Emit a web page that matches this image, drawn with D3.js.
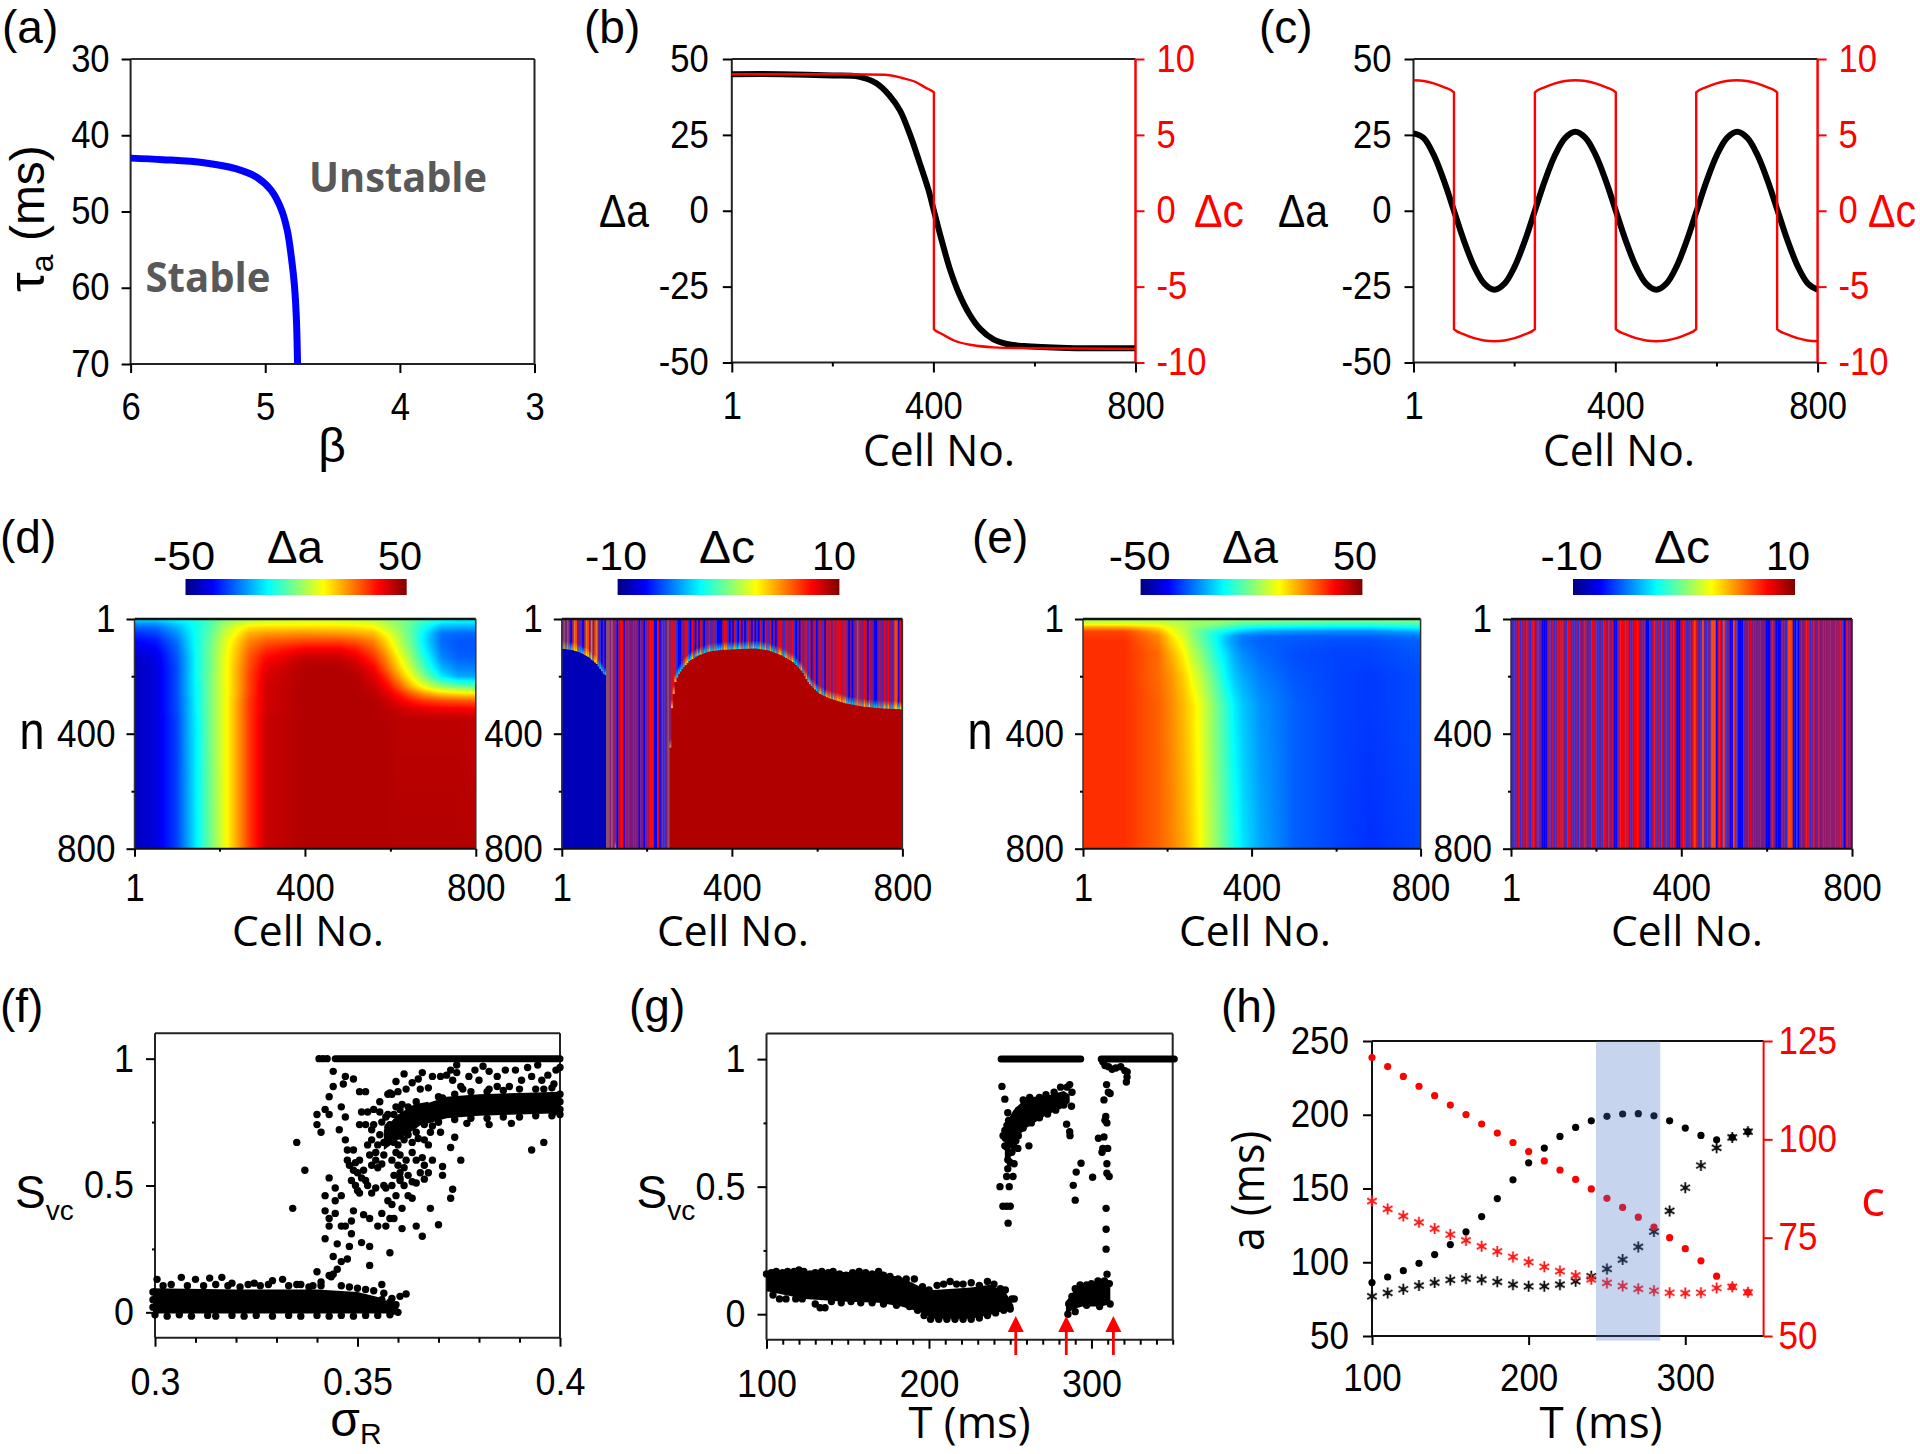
<!DOCTYPE html>
<html><head><meta charset="utf-8">
<script src="https://cdn.jsdelivr.net/npm/d3@7"></script>
<style>html,body{margin:0;padding:0;background:#fff}svg{display:block}</style>
</head><body><svg id="c" width="1920" height="1454" viewBox="0 0 1920 1454"></svg>
<script>
// ---------- DATA ----------
const aBeta=[6,5.758,5.456,5.214,5.063,4.957,4.881,4.836,4.806,4.784,4.769,4.76];
const aTau=[43,43.2,43.6,44.4,45.5,47.2,49.7,52.5,56,59.5,63.9,70];
const bCellA=[1,100,200,252,287,313,334,355,373,390,401,416,433,450,471,493,519,545,579,665,800];
const bDa=[45,45,44.6,44.2,42,38,33,24.5,15.7,7,0,-9.5,-19.4,-27,-34,-39,-42.4,-43.9,-44.6,-45.2,-45.3];
const bCellC=[1,235,304,338,364,385,401,401,416,441,476,519,579,800];
const bDc=[9,9,8.96,8.75,8.5,8.1,7.8,-7.8,-8.1,-8.55,-8.85,-9,-9.05,-9.1];
const cCellA=[1,21,41,61,81,101,121,141,161,181,201,221,241,261,281,301,321,341,361,381,401,421,441,461,481,501,521,541,561,581,601,621,641,661,681,701,721,741,761,781,800];
const cDa=[25.5,24,18.4,10,0,-10,-18.4,-24,-26,-24,-18.4,-10,0,10,18.4,24,26,24,18.4,10,0,-10,-18.4,-24,-26,-24,-18.4,-10,0,10,18.4,24,26,24,18.4,10,0,-10,-18.4,-24,-26];
const cCellC=[1,21,41,61,81,81,101,121,141,161,181,201,221,241,241,261,281,301,321,341,361,381,401,401,421,441,461,481,501,521,541,560,560,580,600,620,640,660,680,700,720,720,740,760,780,800];
const cDc=[8.6,8.55,8.4,8.15,7.8,-7.8,-8.15,-8.4,-8.55,-8.6,-8.55,-8.4,-8.15,-7.8,7.8,8.15,8.4,8.55,8.6,8.55,8.4,8.15,7.8,-7.8,-8.15,-8.4,-8.55,-8.6,-8.55,-8.4,-8.15,-7.8,7.8,8.15,8.4,8.55,8.6,8.55,8.4,8.15,7.8,-7.8,-8.15,-8.4,-8.55,-8.6];

const d1Cols=[1,50,100,130,150,180,210,240,270,310,400,480,520,560,590,620,650,680,720,760,800];
const d1Rows=[1,15,30,50,75,105,135,170,200,235,260,285,315,350,800];
const d1Grid=[
[-14,-14,-12,-10,-8,-4,0,2,4,6,7,6,6,5,3,0,-3,-6,-10,-12,-13],
[-22,-22,-16,-13,-10,-5,2,6,9,10,11,11,10,9,5,1,-3,-8,-14,-15,-15],
[-28,-27,-20,-14,-10,-4,4,10,15,16,16,16,15,13,7,2,-4,-11,-20,-21,-21],
[-33,-31,-23,-15,-10,-3,6,13,20,22,23,22,21,19,12,4,-4,-14,-26,-27,-27],
[-37,-35,-26,-16,-10,-2,8,16,24,28,30,30,28,24,16,6,-3,-15,-27,-29,-29],
[-40,-38,-28,-17,-10,-1,9,18,27,33,38,38,35,29,20,9,-1,-13,-26,-29,-29],
[-43,-40,-29,-18,-10,-1,10,19,29,37,43,43,40,33,24,13,2,-10,-24,-28,-28],
[-44,-41,-30,-18,-10,-1,10,20,30,40,45,45,43,38,28,17,6,-6,-20,-25,-25],
[-44,-41,-30,-18,-10,0,10,20,31,41,45,45,45,41,33,22,11,0,-14,-21,-21],
[-44,-41,-30,-18,-11,0,10,20,31,42,45,45,45,43,38,29,19,10,2,-2,-4],
[-44,-41,-30,-18,-11,0,10,20,31,42,45,45,45,44,41,35,28,22,17,15,14],
[-44,-41,-30,-19,-11,0,10,21,32,42,45,45,45,45,43,39,35,32,30,29,28],
[-44,-41,-30,-19,-11,0,10,21,32,42,45,45,45,45,44,43,41,40,39,39,38],
[-44,-41,-31,-19,-12,0,10,21,32,43,45,45,45,45,45,44,44,44,44,44,43],
[-44,-41,-31,-20,-12,-1,10,21,32,43,45,45,45,45,45,45,45,45,45,45,45]];

const e1Cols=[1,100,180,210,240,260,280,300,320,340,360,380,420,500,600,680,800];
const e1Rows=[1,10,20,30,45,60,80,120,200,300,800];
const e1Grid=[
[5,5,5,4,4,3,3,3,2,2,2,1,1,0,0,0,0],
[6,6,6,5,4,3,3,2,2,1,0,-1,-1,-2,-3,-3,-2],
[12,12,10,7,5,3,2,1,0,-2,-3,-5,-6,-7,-8,-8,-6],
[22,21,15,10,6,2,0,-2,-4,-6,-9,-11,-13,-14,-15,-15,-12],
[31,31,21,12,6,1,-3,-7,-10,-13,-16,-19,-21,-23,-24,-24,-20],
[32,32,24,15,8,2,-3,-8,-13,-18,-22,-25,-27,-28,-28,-28,-26],
[33,33,25,17,10,3,-2,-7,-13,-19,-23,-26,-28,-29,-30,-30,-28],
[33,33,27,20,13,6,1,-5,-11,-16,-21,-24,-27,-30,-31,-31,-29],
[33,33,27,23,17,11,6,0,-6,-13,-18,-21,-25,-29,-31,-32,-30],
[33,33,28,24,19,15,10,4,-2,-8,-14,-18,-23,-28,-31,-32,-30],
[33,33,28,25,21,17,12,6,1,-5,-10,-15,-21,-28,-31,-33,-31]];

// stripes: one letter per 4 cells
const d2Stripes="PGPGPBMYOP"+"PbBMYOPYPO"+"YPbBPBGGMG"+"MMBPRRBrPP"+"PPPMPBPPBP"+"MRRRBBRBbP"+"bPGMrrrbBB"+"PPrRbBRPBr"+"BrPBPbrbPM"+"bBBBPRrbBP"+"BrbBrBMBbr"+"PBrBbBrbBr"+"PbrBPBPrRP"+"brMMMRbBPB"+"rPMrbrBPrB"+"PrbMBrMrPr"+"MrrRMrrbBP"+"BPMGMMPRMB"+"RPPBBPMPbR"+"PRPPbOOBRB";
const e2Stripes="bPbPRbPrPR"+"PbrRbRbPBB"+"BPrbrbPrrr"+"rPbRRbPbMb"+"MPMrPPbRRM"+"bbPbRRbrPr"+"BBbrRRrrRP"+"bPRRRPPPPB"+"BbPRRbrbRb"+"MPbrMRPBBP"+"RrbPbPrOrP"+"bbOPbPbOOO"+"BrRbOrbPBB"+"OrbBBBPPPP"+"RPPPPPPPPB"+"BBMrPBBBPP"+"PbOOOBBbBP"+"PPrRrbPrPb"+"RPMMMMMMMM"+"MMrRbBrPrB";
const d2BoundCell=[1,24.5,44,64,83,101,105,106,251,255.5,259,266,273.5,283,298.6,318,345.5,377,416,455,486.5,518,545,565,580.5,604,627.5,666.5,706,745,800];
const d2BoundN=[104,108,117,133,157,195,195,800,800,404,311,224,195,175,148,129,114,108,105.5,103,110,128,152,183,224,259,276,294,305,311,315];

const fTop=[[.3405,1],[.3415,1],[.3425,1]];
const fTopLine=[.3445,.4];
const fBandX=[.2995,.32,.34,.35,.355,.358,.3605];
const fBandHi=[.095,.09,.09,.08,.06,.04,.01];
const fBandLo=[-.005,-.005,-.005,-.005,-.005,-.005,0];
const fMainX=[.3665,.372,.38,.39,.4];
const fMainHi=[.82,.85,.86,.865,.87];
const fMainLo=[.74,.765,.775,.78,.785];
const fBlobX=[.3565,.36,.364,.3675];
const fBlobHi=[.72,.78,.82,.83];
const fBlobLo=[.64,.68,.72,.76];
const fEdge=[[.3065,.138],[.31,.13],[.3135,.135],[.3165,.138],[.319,.115],[.3245,.115],[.329,.125],[.3315,.13],[.336,.11],[.339,.105],[.3435,.14],[.3005,.13],[.356,.11],[.3605,.063],[.362,.072],[.36,0],[.359,.005],[.302,.105],[.304,.11],[.308,.105],[.312,.105],[.315,.11],[.318,.105],[.321,.1],[.323,.11],[.326,.105],[.328,.11],[.333,.105],[.335,.11],[.338,.1],[.341,.105],[.346,.105],[.348,.1],[.35,.095],[.352,.09],[.354,.085],[.3,-.01],[.303,-.015],[.306,-.01],[.309,-.015],[.313,-.012],[.315,-.015],[.319,-.012],[.322,-.015],[.325,-.012],[.329,-.015],[.333,-.012],[.336,-.015],[.34,-.012],[.343,-.015],[.346,-.012],[.349,-.015],[.352,-.012],[.355,-.012],[.358,-.01],[.2995,.05],[.2995,.02],[.2995,.08],[.356,.05],[.358,.04],[.3575,.02],[.3595,.03],[.3565,.075],[.3585,.055],[.359,.015],[.37,.85],[.374,.86],[.378,.87],[.382,.87],[.386,.875],[.39,.88],[.394,.88],[.398,.885],[.37,.75],[.374,.76],[.378,.765],[.382,.765],[.386,.77],[.39,.77],[.394,.775],[.398,.775],[.4,.83],[.4,.80],[.4,.86]];
const fSparse=[[.334,.41],[.335,.67],[.337,.56],[.34,.78],[.34,.74],[.341,.71],[.34,.16],[.342,.8],[.343,.85],[.343,.78],[.344,.89],[.344,.95],[.347,.93],[.3465,.9],[.349,.92],[.346,.81],[.347,.77],[.3455,.72],[.347,.68],[.3475,.64],[.349,.64],[.343,.53],[.3445,.49],[.342,.46],[.3445,.44],[.346,.46],[.342,.4],[.3445,.39],[.343,.37],[.343,.34],[.346,.34],[.347,.34],[.3485,.31],[.3485,.36],[.349,.4],[.3515,.385],[.353,.37],[.342,.29],[.345,.27],[.348,.26],[.351,.275],[.353,.26],[.344,.22],[.346,.2],[.3475,.21],[.353,.185],[.345,.17],[.343,.145],[.344,.15],[.341,.12],[.358,.235],[.355,.34],[.357,.34],[.356,.39],[.358,.37],[.359,.37],[.361,.41],[.361,.33],[.3645,.34],[.37,.345],[.366,.3],[.368,.41],[.373,.45],[.3735,.485],[.3755,.6],[.371,.575],[.371,.54],[.373,.65],[.374,.69],[.3705,.71],[.368,.71],[.393,.64],[.396,.67],
[.3495,.59],[.35,.55],[.3505,.6],[.3495,.5],[.35,.48],[.351,.53],[.3515,.56],[.352,.52],[.3505,.47],[.3525,.5],[.3475,.6],[.348,.58],[.349,.56],[.3485,.52],[.3535,.58],[.3545,.6],[.353,.62],[.3525,.66],[.3535,.68],[.3545,.63],[.355,.57],[.356,.585],[.3565,.62],[.355,.66],[.3555,.7],[.3565,.67],[.354,.74],[.3535,.72],[.352,.74],[.3505,.74],[.351,.79],[.3525,.79],[.354,.8],[.3555,.79],[.356,.75],[.3575,.73],[.357,.77],[.358,.7],[.359,.67],[.3595,.63],[.3585,.6],[.36,.58],[.3605,.55],[.3615,.57],[.3625,.54],[.362,.6],[.3605,.62],[.3635,.63],[.3645,.6],[.366,.61],[.3665,.58],[.3685,.6],[.3675,.55],[.3655,.55],[.3635,.515],[.3645,.51],[.3665,.525],[.3615,.5],[.3605,.52],[.359,.54],[.3585,.5],[.357,.49],[.3565,.5],[.3545,.49],[.3535,.47],[.3595,.46],[.3625,.46],[.3635,.45],[.3575,.44],[.3585,.425],[.3605,.53],
[.3575,.78],[.358,.74],[.359,.78],[.3595,.75],[.3605,.8],[.361,.76],[.361,.71],[.3625,.74],[.3635,.77],[.3645,.8],[.3655,.76],[.3665,.74],[.3615,.68],[.3625,.7],[.3635,.67],[.3645,.71],[.365,.685],[.3665,.68],[.3675,.66],[.36,.66],[.3595,.7],[.3605,.695],[.3595,.81],[.361,.82],[.3625,.81],[.3645,.83],[.366,.81],[.3675,.8],[.3505,.87],[.352,.87],[.3555,.83],[.3575,.86],[.3585,.86],
[.3595,.91],[.3615,.94],[.358,.865],[.36,.87],[.362,.88],[.3635,.905],[.365,.92],[.366,.945],[.3685,.93],[.3655,.88],[.3675,.885],[.3705,.93],[.372,.935],[.373,.955],[.3745,.975],[.3735,.915],[.376,.88],[.371,.845],[.379,.955],[.381,.97],[.3825,.95],[.3845,.93],[.3865,.955],[.389,.955],[.392,.965],[.3945,.975],[.397,.935],[.399,.955],[.4,.965],[.3845,.89],[.3875,.89],[.3825,.88],[.3905,.915],[.393,.93],[.3955,.915],[.3985,.9],[.38,.915],[.3775,.93],[.3745,.945],[.3755,.89],[.396,.88],[.377,.745],[.3825,.74],[.388,.745],[.3685,.735],[.37,.75],[.3985,.79],[.4,.78]];

const gTopA=[244.4,293.4], gTopB=[306,351];
const gBandX=[100,123.7,146.5,169,183,194,203,226,237.6,246.7,252];
const gBandHi=[.165,.17,.165,.16,.145,.11,.095,.105,.115,.09,.035];
const gBandLo=[.09,.06,.05,.045,.03,.01,-.018,-.018,-.003,.014,.02];
const gBlob2X=[284.3,289,294.5,306,311.6];
const gBlob2Hi=[.05,.09,.115,.125,.13];
const gBlob2Lo=[.0,.02,.03,.03,.04];
const gBlob3X=[246.7,252,260,272,283,286.6];
const gBlob3Hi=[.74,.80,.85,.855,.875,.86];
const gBlob3Lo=[.6,.68,.73,.78,.81,.83];
const gEdge=[[100,.158],[103,.163],[106,.168],[110,.163],[113,.168],[117,.168],[120,.173],[123,.168],[127,.158],[130,.163],[134,.168],[138,.163],[141,.168],[145,.158],[149,.153],[153,.163],[157,.168],[161,.163],[165,.158],[169,.168],[172,.153],[176,.148],[181,.138],[186,.138],[191,.138],[196,.108],[200,.095],[205,.113],[209,.118],[213,.128],[217,.118],[221,.118],[226,.123],[231,.113],[236,.128],[240,.118],[244,.1],[247,.095],[251,.06],[252.5,.06],
[104,.075],[108,.06],[112,.06],[118,.06],[122,.06],[130,.04],[133,.025],[136,.025],[140,.05],[146,.045],[152,.05],[158,.045],[165,.045],[172,.04],[180,.035],[188,.03],[193,.015],[197,-.005],[201,-.02],[206,-.02],[211,-.02],[216,-.02],[221,-.02],[226,-.02],[231,-.015],[236,-.005],[241,.005],[246,.015],[250,.02],
[285.5,0],[286,.04],[288,.07],[290,.10],[293,.115],[297,.115],[300,.12],[304,.13],[308,.13],[311,.12],[311.5,.04],[305,.03],[297,.035],[290,.01],
[255,.8],[258,.84],[262,.85],[268,.85],[272,.86],[277,.87],[281,.89],[285,.89],[288,.87],[250,.74],[254,.72],[258,.73],[263,.75],[268,.77],[273,.785],[278,.8],[283,.82]];
const gSparse=[[244.9,.893],[246.7,.843],[243.7,.5],[249.4,.5],[245.5,.423],[247.8,.423],[250,.423],[248.7,.357],[247.8,.54],[251.7,.54],[248.5,.57],[246.7,.72],[245.6,.7],[247.8,.655],[250,.665],[246.7,.66],[249,.63],[251,.635],[248.5,.605],[252.4,.59],[250,.595],[254.7,.65],[253.5,.68],[249,.76],[251,.74],[248.5,.79],[252,.66],[255,.7],[247,.69],[250,.7],[248,.74],[261.5,.66],[284.7,.745],[286.6,.715],[286.8,.7],[286.6,.9],[287.7,.815],[288.8,.505],[290,.447],[290.6,.557],[293.6,.592],[300.7,.537],[309.3,.9],[310.4,.87],[307.7,.84],[311.5,.865],[308.8,.775],[308.3,.76],[309.5,.75],[304.3,.69],[307.7,.695],[307,.65],[310,.65],[306.5,.635],[309.5,.59],[309.5,.553],[310.9,.54],[309,.415],[309,.333],[309,.255],[309.6,.157],
[307,.99],[308.3,.975],[310.5,.97],[312.7,.96],[315,.965],[321.5,.91],[320.5,.955],[321.9,.93],[318,.97],[322,.95]];
const gArrows=[253.4,284.5,313.5];

const hT=[100,110,120,130,140,150,160,170,180,190,200,210,220,230,240,250,260,270,280,290,300,310,320,330,340];
const hADots=[86.2,90,94.3,99.3,105.2,112,120.6,131,143.2,155.9,167.4,177.4,185.3,191.4,195.9,198.9,200.5,200.7,199.3,195.9,191,186,183,184.6,188.5];
const hAStars=[76.9,79.2,81.7,84.2,86.2,88,88.9,88.2,86.7,84.8,83.7,83.7,84.8,87.1,90.5,95.5,101.8,110.4,120.8,134.8,150.5,165.6,177.6,184.6,188.5];
const hCDots=[120.8,118.5,116,113.5,111.1,108.7,106.3,103.9,101.6,99.2,96.9,94.5,92.2,89.8,87.4,85,82.7,80.2,77.7,75,72.2,69.1,65.2,62.5,61.1];
const hCStars=[84.3,82.3,80.5,78.9,77.3,75.8,74.3,72.8,71.5,70.1,68.8,67.6,66.5,65.4,64.4,63.5,62.7,62,61.5,61,60.9,61,62.2,62.5,61.1];
const hBand=[243,284];

const cellTicksMajor=[1,400,800], cellTicksMinor=[200,600];
const jetStops=[-1,-.75,-.25,.25,.75,1];
const jetColors=["#00007f","#0000ff","#00ffff","#ffff00","#ff0000","#7f0000"];
const stripeColor={B:"#0000ff",b:"#2a30e0",P:"#7a1a80",M:"#931a6c",R:"#ff0000",r:"#d40f2a",O:"#ff4000",G:"#8a5072",Y:"#e07a20"};
const tipColor={B:"#00e8e8",b:"#10d0e0",P:"#40a0b0",M:"#d09040",R:"#ffe000",r:"#f0c820",O:"#ffe000",G:"#d0a040",Y:"#ffd000"};

// ---------- DRAW ----------
const svg=d3.select("#c");
const serif='"Liberation Sans",Arial,sans-serif', label='"Open Sans",sans-serif';
const jet=d3.scaleLinear().domain(jetStops).range(jetColors).clamp(true);

function txt(x,y,s,o={}){
  const t=svg.append("text").attr("x",x).attr("y",y).text(s)
    .attr("font-family",o.font||serif).attr("font-size",o.size||38)
    .attr("fill",o.fill||"#000").attr("text-anchor",o.anchor||"middle")
    .attr("font-weight",o.weight||"normal");
  if(o.w) t.attr("textLength",o.w).attr("lengthAdjust","spacingAndGlyphs");
  if(o.rot!=null) t.attr("transform",`rotate(${o.rot},${x},${y})`);
  return t;
}
function subTxt(x,y,main,sub,o={}){
  const t=txt(x,y,main,Object.assign({anchor:"start"},o));
  t.append("tspan").attr("dy",o.subDy||12).attr("font-size",o.subSize||30).text(sub);
  return t;
}
function axis(kind,scale,at,majors,minors,o={}){
  const col=o.color||"#000", gen={left:d3.axisLeft,right:d3.axisRight,bottom:d3.axisBottom}[kind];
  const mk=(vals,size,labels)=>{
    const g=svg.append("g").attr("transform",kind==="bottom"?`translate(0,${at})`:`translate(${at},0)`)
      .call(gen(scale).tickValues(vals).tickSize(size).tickSizeOuter(0).tickPadding(o.pad==null?12:o.pad).tickFormat(labels?(o.fmt||(d=>String(d))):""));
    g.select(".domain").remove();
    g.selectAll("line").attr("stroke",col).attr("stroke-width",o.tw||2);
    g.selectAll("text").attr("fill",col).attr("font-family",serif).attr("font-size",o.size||38);
    if(labels) g.selectAll("text").each(function(){
      const len=this.getComputedTextLength();
      d3.select(this).attr("textLength",len*(o.ratio||.91)).attr("lengthAdjust","spacingAndGlyphs");
    });
    return g;
  };
  if(minors&&minors.length) mk(minors,o.minLen||4,false);
  mk(majors,o.len||9,true);
}
function frame(x0,x1,y0,y1,o={}){
  const L=(a,b,c,d,col,w)=>svg.append("line").attr("x1",a).attr("y1",b).attr("x2",c).attr("y2",d).attr("stroke",col).attr("stroke-width",w);
  L(x0,y0,x1,y0,o.top||"#222",o.topW||2);
  L(x0,y1,x1,y1,"#222",o.botW||2);
  L(x0,y0,x0,y1,"#222",2);
  L(x1,y0,x1,y1,o.right||"#222",2);
}
function heat(cols,rows,grid,x,y){
  const [x0,x1]=x.range(),[y0,y1]=y.range();
  const w=Math.round(x1-x0),h=Math.round(y1-y0);
  const cv=document.createElement("canvas");cv.width=w;cv.height=h;
  const ctx=cv.getContext("2d"),img=ctx.createImageData(w,h);
  const ci=d3.scaleLinear().domain(cols).range(d3.range(cols.length)).clamp(true);
  const ri=d3.scaleLinear().domain(rows).range(d3.range(rows.length)).clamp(true);
  for(let j=0;j<h;j++){
    const rf=ri(y.invert(y0+j+.5)),r0=Math.min(Math.floor(rf),rows.length-2),rt=rf-r0;
    for(let i=0;i<w;i++){
      const cf=ci(x.invert(x0+i+.5)),c0=Math.min(Math.floor(cf),cols.length-2),ct=cf-c0;
      const v=(grid[r0][c0]*(1-ct)+grid[r0][c0+1]*ct)*(1-rt)+(grid[r0+1][c0]*(1-ct)+grid[r0+1][c0+1]*ct)*rt;
      const col=d3.rgb(jet(v/50)),p=(j*w+i)*4;
      img.data[p]=col.r;img.data[p+1]=col.g;img.data[p+2]=col.b;img.data[p+3]=255;
    }
  }
  ctx.putImageData(img,0,0);
  svg.append("image").attr("x",x0).attr("y",y0).attr("width",w).attr("height",h).attr("href",cv.toDataURL());
}
const defs=svg.append("defs");
defs.append("linearGradient").attr("id","jet").selectAll("stop").data(jetStops).join("stop")
  .attr("offset",d=>(d+1)/2).attr("stop-color",d=>jet(d));
Object.keys(stripeColor).forEach(k=>{
  const g=defs.append("linearGradient").attr("id","tip"+k).attr("x1",0).attr("y1",0).attr("x2",0).attr("y2",1);
  g.append("stop").attr("offset",0).attr("stop-color",stripeColor[k]);
  g.append("stop").attr("offset",1).attr("stop-color",tipColor[k]);
});
function colorbar(x0,x1,lo,hi,sym,cxLo,cxHi,cxSym){
  svg.append("rect").attr("x",x0).attr("y",579).attr("width",x1-x0).attr("height",16).attr("fill","url(#jet)");
  txt(cxLo,570,lo,{size:41,w:62});
  txt(cxHi,570,hi,{size:41,w:44});
  txt(cxSym,563,sym,{size:46,w:56});
}
function dots(g,pts,x,y,r,fill){
  g.selectAll(null).data(pts).join("circle").attr("cx",d=>x(d[0])).attr("cy",d=>y(d[1])).attr("r",r).attr("fill",fill);
}
const panelTag=(x,y,s)=>txt(x,y,s,{anchor:"start",size:46});

// (a)
{
  const x=d3.scaleLinear().domain([6,3]).range([130.6,534.5]),y=d3.scaleLinear().domain([30,70]).range([59,364]);
  frame(130.6,534.5,59,364,{top:"#333"});
  axis("left",y,130.6,[30,40,50,60,70],[],{pad:12,len:9});
  axis("bottom",x,364,[6,5,4,3],[],{pad:20,len:9});
  svg.append("path").attr("d",d3.line().x(d=>x(d[0])).y(d=>y(d[1])).curve(d3.curveCatmullRom)(d3.zip(aBeta,aTau)))
    .attr("fill","none").attr("stroke","#0000ff").attr("stroke-width",7);
  txt(398,192,"Unstable",{font:label,weight:"bold",size:42,fill:"#595959",w:178});
  txt(208,292,"Stable",{font:label,weight:"bold",size:42,fill:"#595959",w:125});
  txt(332,462,"β",{size:48});
  const t=txt(44,292,"τ",{anchor:"start",size:50,rot:-90});
  t.append("tspan").attr("font-size",32).attr("dy",9).text("a");
  t.append("tspan").attr("font-size",48).attr("dy",-9).text(" (ms)");
  panelTag(2,43,"(a)");
}
// (b),(c)
function dual(x0,x1,cellA,da,cellC,dc,padL,padR){
  const x=d3.scaleLinear().domain([1,800]).range([x0,x1]);
  const yA=d3.scaleLinear().domain([-50,50]).range([362.5,59]);
  const yC=d3.scaleLinear().domain([-10,10]).range([362.5,59]);
  frame(x0,x1,59,362.5,{right:"#ff0000"});
  svg.append("path").attr("d",d3.line().x(d=>x(d[0])).y(d=>yA(d[1])).curve(d3.curveCatmullRom)(d3.zip(cellA,da)))
    .attr("fill","none").attr("stroke","#000").attr("stroke-width",6);
  svg.append("path").attr("d",d3.line().x(d=>x(d[0])).y(d=>yC(d[1])).curve(d3.curveMonotoneX)(d3.zip(cellC,dc)))
    .attr("fill","none").attr("stroke","#ff0000").attr("stroke-width",2.4);
  svg.append("line").attr("x1",x1).attr("x2",x1).attr("y1",59).attr("y2",362.5).attr("stroke","#ff0000").attr("stroke-width",2);
  axis("left",yA,x0,[50,25,0,-25,-50],[],{pad:padL,len:9});
  axis("right",yC,x1,[10,5,0,-5,-10],[],{pad:padR,len:9,color:"#ff0000"});
  axis("bottom",x,362.5,cellTicksMajor,cellTicksMinor,{pad:20,len:10,minLen:4});
}
dual(731.8,1135.5,bCellA,bDa,bCellC,bDc,14,12);
txt(624,227,"Δa",{size:46,w:50});
txt(1219,227,"Δc",{size:46,w:50,fill:"#ff0000"});
txt(939,466,"Cell No.",{font:label,size:44,w:152});
panelTag(584,43,"(b)");
dual(1413.5,1817.6,cCellA,cDa,cCellC,cDc,13,12);
txt(1303,227,"Δa",{size:46,w:50});
txt(1892,227,"Δc",{size:46,w:48,fill:"#ff0000"});
txt(1619,466,"Cell No.",{font:label,size:44,w:152});
panelTag(1259,43,"(c)");

// heat-map axes
function heatAxes(x,y,o){
  const [x0,x1]=x.range(),[y0,y1]=y.range();
  svg.append("line").attr("x1",x0).attr("x2",x1).attr("y1",y0).attr("y2",y0).attr("stroke","#111").attr("stroke-width",2.5);
  svg.append("line").attr("x1",x0).attr("x2",x1).attr("y1",y1).attr("y2",y1).attr("stroke","#111").attr("stroke-width",2);
  svg.append("line").attr("x1",x0).attr("x2",x0).attr("y1",y0).attr("y2",y1).attr("stroke","#333").attr("stroke-width",1.5);
  svg.append("line").attr("x1",x1).attr("x2",x1).attr("y1",y0).attr("y2",y1).attr("stroke","#333").attr("stroke-width",1.5);
  axis("left",y,x0,cellTicksMajor,cellTicksMinor,{pad:o.padL,len:8,minLen:3,size:39,ratio:.9});
  axis("bottom",x,y1,cellTicksMajor,cellTicksMinor,{pad:17,len:8,minLen:3,size:39,ratio:.9});
  txt(o.cell,946,"Cell No.",{font:label,size:42,w:152});
}
function stripes(x,y,str,bound){
  const g=svg.append("g");
  d3.range(str.length).forEach(i=>{
    const c0=1+i*4,c1=c0+4,k=str[i];
    const nEnd=bound?bound(c0+2):800;
    const yEnd=y(nEnd);
    g.append("rect").attr("x",x(c0)).attr("width",x(Math.min(c1,800))-x(c0)+.4).attr("y",y(1)).attr("height",Math.max(0,yEnd-y(1))).attr("fill",stripeColor[k]);
    if(nEnd<800){
      const th=Math.min(8,yEnd-y(1));
      g.append("rect").attr("x",x(c0)).attr("width",x(Math.min(c1,800))-x(c0)+.4).attr("y",yEnd-th).attr("height",th).attr("fill","url(#tip"+k+")");
    }
  });
}
const nY=d3.scaleLinear().domain([1,800]).range([619,848.7]);
// (d) left
{
  const x=d3.scaleLinear().domain([1,800]).range([134.5,475.8]);
  heat(d1Cols,d1Rows,d1Grid,x,nY);
  heatAxes(x,nY,{padL:11,cell:308});
  colorbar(185.5,406.7,"-50","50","Δa",184,400,295);
  txt(32,749,"n",{size:54,w:25});
  panelTag(0,553,"(d)");
}
// (d) right
{
  const x=d3.scaleLinear().domain([1,800]).range([561.8,902.4]);
  svg.append("rect").attr("x",x(1)).attr("width",x(106)-x(1)).attr("y",619).attr("height",229.7).attr("fill","#0000b8");
  svg.append("rect").attr("x",x(250)).attr("width",x(800)-x(250)).attr("y",619).attr("height",229.7).attr("fill","#b00000");
  const bound=d3.scaleLinear().domain(d2BoundCell).range(d2BoundN);
  stripes(x,nY,d2Stripes,bound);
  heatAxes(x,nY,{padL:11,cell:733});
  colorbar(617.6,839.4,"-10","10","Δc",616,834,727);
}
// (e) left
{
  const x=d3.scaleLinear().domain([1,800]).range([1083,1420.6]);
  heat(e1Cols,e1Rows,e1Grid,x,nY);
  heatAxes(x,nY,{padL:11,cell:1255});
  colorbar(1140.6,1362.4,"-50","50","Δa",1139.7,1355,1250);
  txt(980,749,"n",{size:54,w:25});
  panelTag(972,553,"(e)");
}
// (e) right
{
  const x=d3.scaleLinear().domain([1,800]).range([1511,1852]);
  stripes(x,nY,e2Stripes,null);
  heatAxes(x,nY,{padL:11,cell:1687});
  colorbar(1573,1795,"-10","10","Δc",1571.5,1788,1682);
}
// (f)
{
  const x=d3.scaleLinear().domain([.3,.4]).range([155,560]),y=d3.scaleLinear().domain([-.1,1.1]).range([1337.7,1033.3]);
  frame(155,560,1033.3,1337.7);
  axis("left",y,155,[0,.5,1],[.25,.75],{pad:12,len:9,minLen:3,size:39,ratio:.92});
  axis("bottom",x,1337.7,[.3,.35,.4],[.31,.32,.33,.34,.36,.37,.38,.39],{pad:21,len:9,minLen:5,size:39,ratio:.92});
  const g=svg.append("g");
  const area=(xs,hi,lo)=>d3.area().x(d=>x(d[0])).y1(d=>y(d[1])).y0(d=>y(d[2]))(d3.zip(xs,hi,lo));
  g.append("path").attr("d",area(fBandX,fBandHi,fBandLo)).attr("fill","#000");
  g.append("path").attr("d",area(fMainX,fMainHi,fMainLo)).attr("fill","#000");
  g.append("path").attr("d",area(fBlobX,fBlobHi,fBlobLo)).attr("fill","#000");
  g.append("line").attr("x1",x(fTopLine[0])).attr("x2",x(fTopLine[1])).attr("y1",y(1)).attr("y2",y(1)).attr("stroke","#000").attr("stroke-width",7).attr("stroke-linecap","round");
  dots(g,fTop,x,y,3.7,"#000");dots(g,fEdge,x,y,3.7,"#000");dots(g,fSparse,x,y,3.7,"#000");
  subTxt(15,1208,"S","vc",{size:46,subSize:28,subDy:12});
  txt(356,1436,"σ",{size:48}).append("tspan").attr("font-size",30).attr("dy",8).text("R");
  panelTag(0,1022,"(f)");
}
// (g)
{
  const x=d3.scaleLinear().domain([100,350]).range([766.5,1172.7]),y=d3.scaleLinear().domain([-.1,1.1]).range([1339.7,1033.6]);
  frame(766.5,1172.7,1033.6,1339.7);
  axis("left",y,766.5,[0,.5,1],[.25,.75],{pad:12,len:9,minLen:3,size:39,ratio:.92});
  axis("bottom",x,1339.7,[100,200,300],d3.range(110,351,10).filter(v=>v%100),{pad:21,len:9,minLen:5,size:39,ratio:.92});
  const g=svg.append("g");
  const area=(xs,hi,lo)=>d3.area().x(d=>x(d[0])).y1(d=>y(d[1])).y0(d=>y(d[2]))(d3.zip(xs,hi,lo));
  g.append("path").attr("d",area(gBandX,gBandHi,gBandLo)).attr("fill","#000");
  g.append("path").attr("d",area(gBlob2X,gBlob2Hi,gBlob2Lo)).attr("fill","#000");
  g.append("path").attr("d",area(gBlob3X,gBlob3Hi,gBlob3Lo)).attr("fill","#000");
  [gTopA,gTopB].forEach(s=>g.append("line").attr("x1",x(s[0])).attr("x2",x(s[1])).attr("y1",y(1)).attr("y2",y(1)).attr("stroke","#000").attr("stroke-width",7).attr("stroke-linecap","round"));
  dots(g,gEdge,x,y,3.7,"#000");dots(g,gSparse,x,y,3.7,"#000");
  gArrows.forEach(t=>{
    const ax=x(t),tip=y(-.007);
    svg.append("line").attr("x1",ax).attr("x2",ax).attr("y1",y(-.06)).attr("y2",y(-.16)).attr("stroke","#ff0000").attr("stroke-width",2.8);
    svg.append("path").attr("d",`M${ax},${tip}L${ax+8},${tip+16}L${ax-8},${tip+16}Z`).attr("fill","#ff0000");
  });
  subTxt(636.5,1208,"S","vc",{size:46,subSize:28,subDy:12});
  txt(969.6,1438,"T (ms)",{font:label,size:44,w:122});
  panelTag(629,1022,"(g)");
}
// (h)
{
  const x=d3.scaleLinear().domain([100,350]).range([1372,1763.6]);
  const yA=d3.scaleLinear().domain([50,250]).range([1336,1041]);
  const yC=d3.scaleLinear().domain([50,125]).range([1336,1041]);
  const L=(a,b,c,d,col)=>svg.append("line").attr("x1",a).attr("y1",b).attr("x2",c).attr("y2",d).attr("stroke",col).attr("stroke-width",2);
  L(1372,1041,1763.6,1041,"#111");L(1372,1336,1763.6,1336,"#111");L(1372,1041,1372,1336,"#111");L(1763.6,1041,1763.6,1336,"#ff0000");
  axis("left",yA,1372,[50,100,150,200,250],[],{pad:14,len:9,size:38,ratio:.92});
  axis("right",yC,1763.6,[125,100,75,50],[],{pad:6,len:9,color:"#ff0000",size:38,ratio:.92});
  axis("bottom",x,1336,[100,200,300],[],{pad:19,len:9,size:38,ratio:.92});
  const g=svg.append("g");
  const star=d3.symbol().type(d3.symbolAsterisk).size(85)();
  const stars=(vals,sc,col)=>{
    const s=g.append("g").selectAll("g").data(d3.zip(hT,vals)).join("g").attr("transform",d=>`translate(${x(d[0])},${sc(d[1])})`);
    s.append("path").attr("d",star).attr("fill","none").attr("stroke",col).attr("stroke-width",3).attr("stroke-opacity",.3);
    s.append("path").attr("d",star).attr("fill","none").attr("stroke",col).attr("stroke-width",1.4);
    s.append("circle").attr("r",2.2).attr("fill",col);
  };
  const cir=(vals,sc,col)=>g.append("g").selectAll("circle").data(d3.zip(hT,vals)).join("circle").attr("cx",d=>x(d[0])).attr("cy",d=>sc(d[1])).attr("r",3.6).attr("fill",col);
  stars(hAStars,yA,"#111");cir(hADots,yA,"#000");
  cir(hCDots,yC,"#ff0000");stars(hCStars,yC,"#ff1a1a");
  svg.append("rect").attr("x",x(hBand[0])).attr("width",x(hBand[1])-x(hBand[0])).attr("y",1041).attr("height",299.6).attr("fill","#4472c4").attr("fill-opacity",.3);
  txt(1264,1191,"a (ms)",{font:label,size:46,w:120,rot:-90});
  txt(1601,1438,"T (ms)",{font:label,size:44,w:123});
  txt(1873,1216,"c",{font:label,size:50,fill:"#ff0000"});
  panelTag(1221,1022,"(h)");
}
</script></body></html>
